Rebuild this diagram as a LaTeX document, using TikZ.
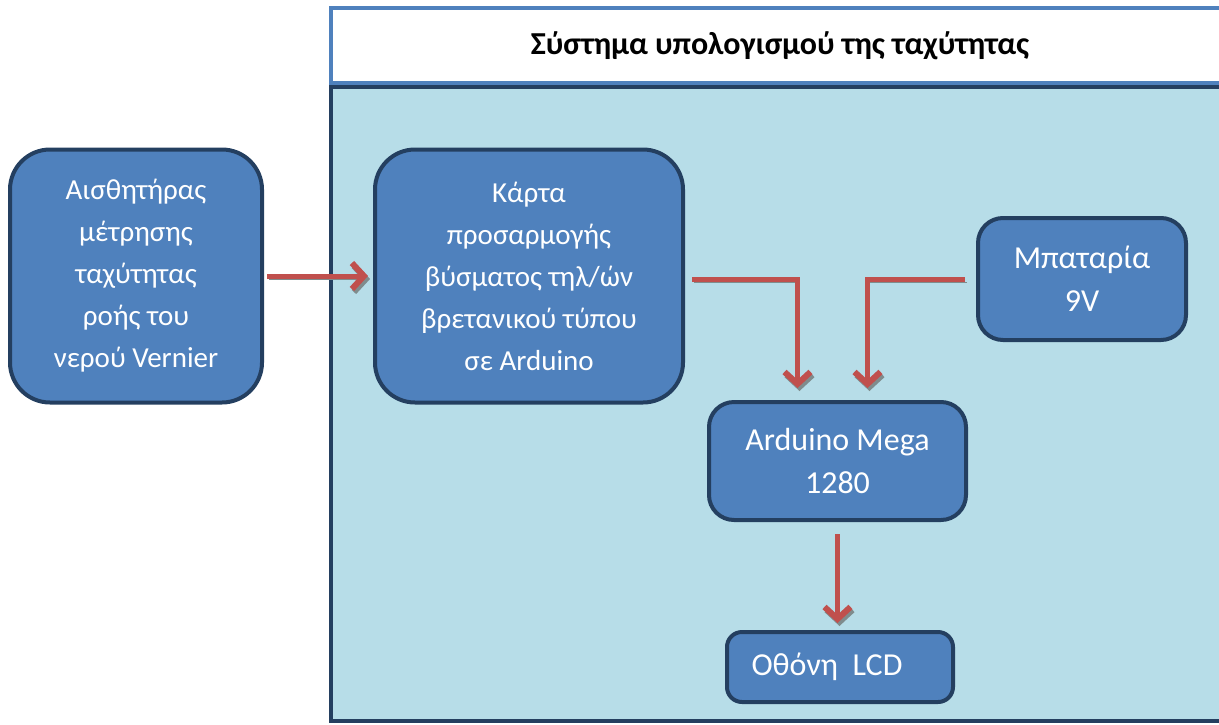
\documentclass[tikz,border=0pt]{standalone}
\usepackage{fontspec}
\setmainfont{Carlito}
\usetikzlibrary{arrows.meta}
\definecolor{boxfill}{HTML}{4F81BD}
\definecolor{boxline}{HTML}{243F60}
\definecolor{bgblue}{HTML}{B7DDE8}
\definecolor{arrred}{HTML}{C0504D}
\definecolor{shadowgray}{HTML}{7F8C8D}
\tikzset{
  blockbox/.style={draw=boxline, fill=boxfill, line width=4pt, text=white,
    align=center, inner sep=0pt, font=\fontsize{29}{42}\selectfont},
  bigtext/.style={font=\fontsize{32}{43}\selectfont},
  flowarrow/.style={draw=arrred, line width=5pt,
    -{Straight Barb[length=12pt,width=26pt,line width=6pt]},
    preaction={draw=shadowgray, transform canvas={shift={(2pt,-3pt)}}}},
}
\begin{document}
\begin{tikzpicture}[x=1pt,y=-1pt]
\clip (0,0) rectangle (1219,724);
\useasboundingbox (0,0) rectangle (1219,724);
% frame
\draw[draw=boxfill, fill=white, line width=4pt] (331,8) rectangle (1240,83);
\draw[draw=boxline, fill=bgblue, line width=4pt] (331,87) rectangle (1240,721);
\node[font=\bfseries\fontsize{32}{38}\selectfont] (title) at (780,46) {Σύστημα υπολογισμού της ταχύτητας};
% blocks
\node[blockbox, minimum width=252pt, minimum height=253pt, rounded corners=40pt] (sensor) at (136,276)
  {Αισθητήρας\\μέτρησης\\ταχύτητας\\ροής του\\νερού Vernier};
\node[blockbox, minimum width=308pt, minimum height=253pt, rounded corners=40pt] (card) at (529,276)
  {Κάρτα\\προσαρμογής\\βύσματος τηλ/ών\\βρετανικού τύπου\\σε Arduino};
\node[blockbox, bigtext, minimum width=208pt, minimum height=122pt, rounded corners=25pt] (battery) at (1082,279)
  {Μπαταρία\\9V};
\node[blockbox, bigtext, minimum width=257pt, minimum height=118pt, rounded corners=25pt] (arduino) at (837.5,461)
  {Arduino Mega\\1280};
\node[blockbox, bigtext, minimum width=226pt, minimum height=70pt, rounded corners=15pt] (lcd) at (840,667)
  {\hspace*{-26pt}Οθόνη\ \ LCD};
% connectors
\draw[flowarrow] ([xshift=3pt]sensor.east) -- ([xshift=-5pt]card.west);
\draw[flowarrow] ([xshift=7pt,yshift=-3pt]card.east) -| ([xshift=-40pt,yshift=12pt]arduino.north);
\draw[flowarrow] ([xshift=-11pt]battery.west) -| ([xshift=30pt,yshift=12pt]arduino.north);
\draw[flowarrow] ([yshift=-12pt]arduino.south) -- ([yshift=7pt]arduino.south |- lcd.north);
\end{tikzpicture}
\end{document}
